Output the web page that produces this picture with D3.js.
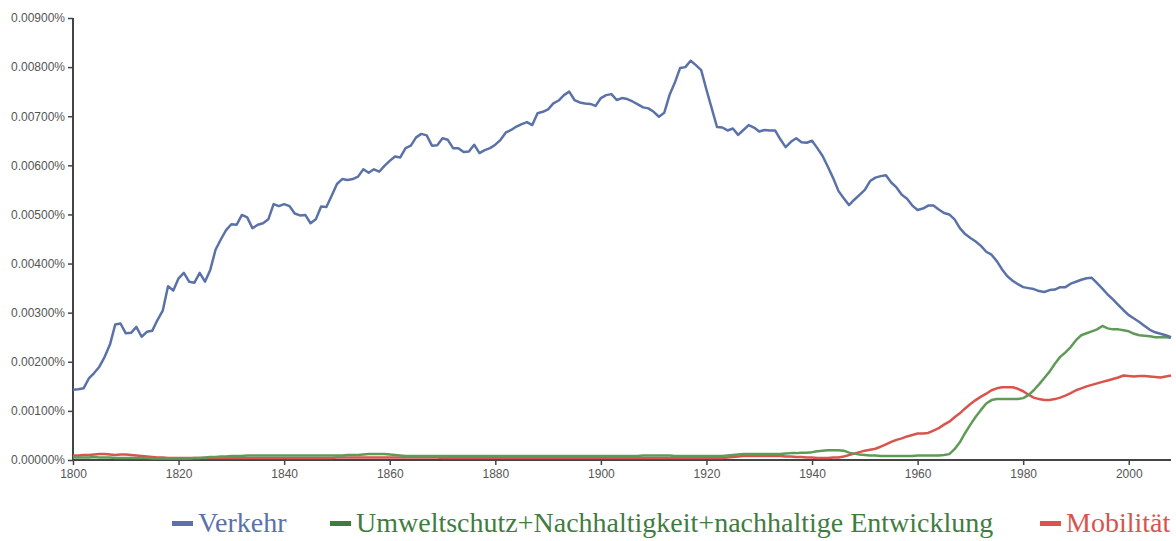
<!DOCTYPE html>
<html>
<head>
<meta charset="utf-8">
<script src="https://cdn.jsdelivr.net/npm/d3@7"></script>
<style>
body { margin: 0; background: #fff; }
svg { display: block; }
</style>
</head>
<body>
<svg id="chart" width="1176" height="541"></svg>
<script>
// years 1800..2008, values in percent
var startYear = 1800;

var verkehr = [
0.00143,0.00144,0.00146,0.00166,0.00177,0.00190,0.00210,0.00235,0.00276,0.00278,
0.00258,0.00259,0.00271,0.00251,0.00261,0.00263,0.00285,0.00304,0.00354,0.00345,
0.00370,0.00381,0.00363,0.00361,0.00381,0.00363,0.00387,0.00428,0.00449,0.00468,
0.00480,0.00479,0.00499,0.00494,0.00472,0.00479,0.00482,0.00490,0.00521,0.00517,
0.00521,0.00517,0.00502,0.00498,0.00499,0.00482,0.00490,0.00516,0.00515,0.00538,
0.00562,0.00572,0.00570,0.00572,0.00577,0.00592,0.00585,0.00592,0.00587,0.00599,
0.00609,0.00618,0.00616,0.00635,0.00640,0.00657,0.00664,0.00661,0.00640,0.00641,
0.00655,0.00652,0.00635,0.00635,0.00627,0.00628,0.00642,0.00625,0.00631,0.00635,
0.00642,0.00652,0.00667,0.00672,0.00679,0.00684,0.00688,0.00682,0.00706,0.00709,
0.00714,0.00726,0.00732,0.00743,0.00750,0.00733,0.00728,0.00726,0.00725,0.00721,
0.00737,0.00743,0.00745,0.00733,0.00737,0.00735,0.00730,0.00724,0.00718,0.00716,
0.00709,0.00699,0.00707,0.00743,0.00768,0.00798,0.00800,0.00813,0.00804,0.00794,
0.00754,0.00716,0.00678,0.00677,0.00671,0.00675,0.00662,0.00672,0.00682,0.00677,
0.00669,0.00672,0.00671,0.00671,0.00653,0.00637,0.00648,0.00655,0.00647,0.00646,
0.00650,0.00635,0.00619,0.00597,0.00574,0.00548,0.00533,0.00519,0.00530,0.00540,
0.00550,0.00568,0.00575,0.00578,0.00580,0.00565,0.00555,0.00540,0.00532,0.00518,
0.00509,0.00512,0.00518,0.00518,0.00510,0.00503,0.00500,0.00490,0.00472,0.00460,
0.00452,0.00445,0.00436,0.00424,0.00418,0.00405,0.00388,0.00374,0.00365,0.00358,
0.00352,0.00350,0.00348,0.00344,0.00342,0.00346,0.00347,0.00352,0.00352,0.00359,
0.00363,0.00367,0.00370,0.00371,0.00360,0.00349,0.00337,0.00327,0.00316,0.00305,
0.00295,0.00288,0.00281,0.00273,0.00265,0.00260,0.00257,0.00254,0.00250
];

var umwelt = [
0.00005,0.00005,0.00005,0.00005,0.00006,0.00005,0.00005,0.00005,0.00004,0.00004,
0.00004,0.00004,0.00004,0.00004,0.00004,0.00003,0.00003,0.00003,0.00003,0.00003,
0.00003,0.00003,0.00003,0.00004,0.00004,0.00005,0.00006,0.00006,0.00007,0.00007,
0.00008,0.00008,0.00008,0.00009,0.00009,0.00009,0.00009,0.00009,0.00009,0.00009,
0.00009,0.00009,0.00009,0.00009,0.00009,0.00009,0.00009,0.00009,0.00009,0.00009,
0.00009,0.00009,0.00010,0.00010,0.00010,0.00011,0.00012,0.00012,0.00012,0.00012,
0.00011,0.00010,0.00009,0.00008,0.00008,0.00008,0.00008,0.00008,0.00008,0.00008,
0.00008,0.00008,0.00008,0.00008,0.00008,0.00008,0.00008,0.00008,0.00008,0.00008,
0.00008,0.00008,0.00008,0.00008,0.00008,0.00008,0.00008,0.00008,0.00008,0.00008,
0.00008,0.00008,0.00008,0.00008,0.00008,0.00008,0.00008,0.00008,0.00008,0.00008,
0.00008,0.00008,0.00008,0.00008,0.00008,0.00008,0.00008,0.00008,0.00009,0.00009,
0.00009,0.00009,0.00009,0.00009,0.00008,0.00008,0.00008,0.00008,0.00008,0.00008,
0.00008,0.00008,0.00008,0.00008,0.00009,0.00010,0.00011,0.00012,0.00012,0.00012,
0.00012,0.00012,0.00012,0.00012,0.00012,0.00013,0.00014,0.00014,0.00015,0.00015,
0.00016,0.00018,0.00019,0.00020,0.00020,0.00020,0.00019,0.00015,0.00013,0.00011,
0.00010,0.00009,0.00009,0.00008,0.00008,0.00008,0.00008,0.00008,0.00008,0.00008,
0.00009,0.00009,0.00009,0.00009,0.00009,0.00010,0.00012,0.00022,0.00036,0.00055,
0.00072,0.00088,0.00102,0.00115,0.00122,0.00124,0.00124,0.00124,0.00124,0.00124,
0.00126,0.00132,0.00142,0.00154,0.00167,0.00180,0.00196,0.00210,0.00219,0.00230,
0.00244,0.00254,0.00258,0.00262,0.00266,0.00273,0.00268,0.00266,0.00266,0.00264,
0.00262,0.00257,0.00254,0.00253,0.00252,0.00250,0.00250,0.00250,0.00249
];

var mobilitaet = [
0.00009,0.00009,0.00010,0.00010,0.00011,0.00012,0.00012,0.00011,0.00010,0.00011,
0.00011,0.00010,0.00009,0.00008,0.00007,0.00006,0.00005,0.00005,0.00004,0.00004,
0.00004,0.00004,0.00004,0.00004,0.00004,0.00004,0.00004,0.00004,0.00004,0.00004,
0.00004,0.00004,0.00004,0.00004,0.00004,0.00004,0.00004,0.00004,0.00004,0.00004,
0.00004,0.00004,0.00004,0.00004,0.00004,0.00004,0.00004,0.00004,0.00004,0.00004,
0.00005,0.00005,0.00005,0.00005,0.00005,0.00005,0.00005,0.00005,0.00005,0.00005,
0.00005,0.00005,0.00005,0.00005,0.00005,0.00005,0.00005,0.00005,0.00005,0.00005,
0.00004,0.00004,0.00004,0.00004,0.00004,0.00004,0.00004,0.00004,0.00004,0.00004,
0.00004,0.00004,0.00004,0.00004,0.00004,0.00004,0.00004,0.00004,0.00004,0.00004,
0.00004,0.00004,0.00004,0.00004,0.00004,0.00004,0.00004,0.00004,0.00004,0.00004,
0.00004,0.00004,0.00004,0.00004,0.00004,0.00004,0.00004,0.00004,0.00004,0.00004,
0.00004,0.00004,0.00004,0.00004,0.00004,0.00004,0.00004,0.00004,0.00004,0.00004,
0.00004,0.00004,0.00004,0.00004,0.00005,0.00006,0.00007,0.00008,0.00008,0.00008,
0.00008,0.00008,0.00008,0.00008,0.00008,0.00007,0.00007,0.00006,0.00006,0.00005,
0.00005,0.00004,0.00004,0.00004,0.00005,0.00005,0.00007,0.00010,0.00013,0.00016,
0.00019,0.00021,0.00023,0.00027,0.00032,0.00037,0.00041,0.00044,0.00048,0.00051,
0.00054,0.00054,0.00055,0.00060,0.00065,0.00072,0.00078,0.00087,0.00095,0.00105,
0.00114,0.00122,0.00129,0.00135,0.00142,0.00146,0.00148,0.00148,0.00148,0.00145,
0.00140,0.00133,0.00127,0.00124,0.00122,0.00122,0.00124,0.00127,0.00131,0.00136,
0.00142,0.00146,0.00150,0.00153,0.00156,0.00159,0.00162,0.00165,0.00168,0.00172,
0.00171,0.00170,0.00171,0.00171,0.00170,0.00169,0.00168,0.00170,0.00172
];

var seriesNames = ["Verkehr", "Umweltschutz+Nachhaltigkeit+nachhaltige Entwicklung", "Mobilität"];
var seriesColors = ["#5a72a8", "#5f9a57", "#d9544c"];
var legendColors = ["#5a72a8", "#3f7d3f", "#d9544c"];
var yTicks = [0, 0.001, 0.002, 0.003, 0.004, 0.005, 0.006, 0.007, 0.008, 0.009];
var xTicks = [1800, 1820, 1840, 1860, 1880, 1900, 1920, 1940, 1960, 1980, 2000];

var svg = d3.select("#chart");
var margin = {left: 73, top: 18, right: 5, bottom: 81};
var width = 1176 - margin.left - margin.right;
var height = 541 - margin.top - margin.bottom;

var x = d3.scaleLinear().domain([1800, 2008]).range([0, 1098]);
var y = d3.scaleLinear().domain([0, 0.009]).range([height, 0]);

var g = svg.append("g").attr("transform", "translate(" + margin.left + "," + margin.top + ")");

var yAxis = g.append("g")
.call(d3.axisLeft(y).tickValues(yTicks).tickSize(5).tickFormat(function (d) { return d3.format(".5f")(d) + "%" }));
var xAxis = g.append("g")
.attr("transform", "translate(0," + height + ")")
.call(d3.axisBottom(x).tickValues(xTicks).tickSize(5).tickFormat(d3.format("d")));

[yAxis, xAxis].forEach(function (a) {
  a.select(".domain").attr("stroke", "#444").attr("stroke-width", 2);
  a.selectAll(".tick line").attr("stroke", "#444").attr("stroke-width", 1.5);
  a.selectAll("text").attr("fill", "#555").style("font-family", "'Liberation Sans', Arial, sans-serif").style("font-size", "12px");
});
yAxis.select(".domain").attr("d", "M0," + height + "V0");
xAxis.select(".domain").attr("d", "M0,0H" + x(2008));
xAxis.selectAll("text").attr("dy", "0.85em");

var line = d3.line()
.x(function (d, i) { return x(startYear + i) })
.y(function (d) { return y(d) });

var all = [verkehr, umwelt, mobilitaet];
// draw the small ones first so Verkehr sits on top
[2, 1, 0].forEach(function (k) {
  g.append("path")
  .datum(all[k])
  .attr("fill", "none")
  .attr("stroke", seriesColors[k])
  .attr("stroke-width", 2.5)
  .attr("stroke-linejoin", "round")
  .attr("d", line);
});

// legend
var legendX = [172, 330, 1040];
var legend = svg.append("g");
legend.selectAll("rect")
.data(seriesNames)
.enter()
.append("rect")
.attr("x", function (d, i) { return legendX[i] })
.attr("y", 521)
.attr("width", 21)
.attr("height", 5)
.attr("fill", function (d, i) { return legendColors[i] });
legend.selectAll("text")
.data(seriesNames)
.enter()
.append("text")
.attr("x", function (d, i) { return legendX[i] + 26 })
.attr("y", 532)
.attr("fill", function (d, i) { return legendColors[i] })
.style("font-family", "'Liberation Serif', 'Times New Roman', serif")
.style("font-size", "28px")
.text(function (d) { return d });
</script>
</body>
</html>
